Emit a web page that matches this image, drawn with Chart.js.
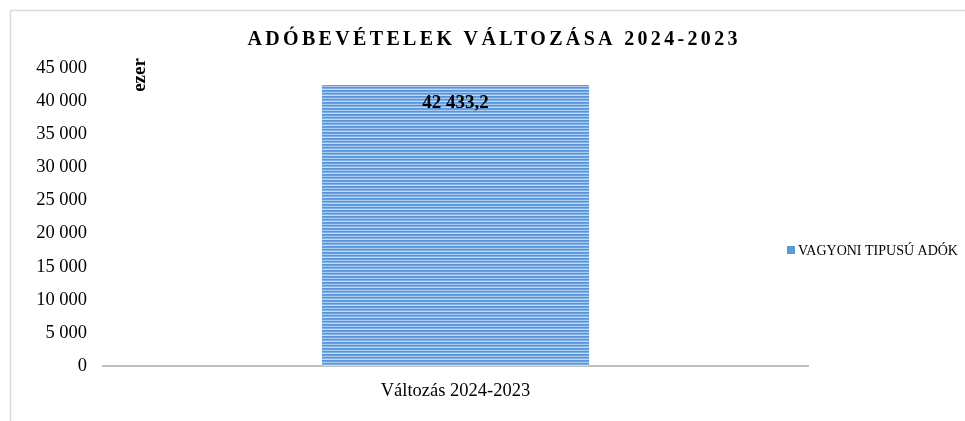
<!DOCTYPE html>
<html><head><meta charset="utf-8">
<script src="https://cdn.jsdelivr.net/npm/chart.js@4"></script>
<style>html,body{margin:0;padding:0;background:#fff}</style>
</head><body>
<canvas id="c" width="965" height="421"></canvas>
<script>
const chartTitle = 'ADÓBEVÉTELEK VÁLTOZÁSA 2024-2023';
const categories = ['Változás 2024-2023'];
const seriesName = 'VAGYONI TIPUSÚ ADÓK';
const seriesValues = [42433.2];
const yTickValues = [0, 5000, 10000, 15000, 20000, 25000, 30000, 35000, 40000, 45000];
const yUnit = 'ezer';

const FONT = '"Liberation Serif", "Times New Roman", serif';

function fmt(v, dec) {
  const s = Math.abs(v).toFixed(dec);
  const parts = s.split('.');
  const int = parts[0].replace(/\B(?=(\d{3})+(?!\d))/g, ' ');
  return (v < 0 ? '-' : '') + int + (parts[1] ? ',' + parts[1] : '');
}

function stripePattern() {
  const c = document.createElement('canvas');
  c.width = 4; c.height = 6;
  const g = c.getContext('2d');
  const rows = ['#5893d8', '#6ca2e1', '#a9caef', '#5a95d9', '#80b0e7', '#c3dbf5'];
  rows.forEach((col, i) => { g.fillStyle = col; g.fillRect(0, i, 4, 1); });
  return document.getElementById('c').getContext('2d').createPattern(c, 'repeat');
}
const barFill = stripePattern();

const decorPlugin = {
  id: 'decor',
  beforeDraw(chart) {
    const ctx = chart.ctx;
    ctx.save();
    ctx.fillStyle = '#ffffff';
    ctx.fillRect(0, 0, chart.width, chart.height);
    ctx.strokeStyle = '#d9d9d9';
    ctx.lineWidth = 1.5;
    ctx.beginPath();
    ctx.moveTo(10.5, chart.height);
    ctx.lineTo(10.5, 10.5);
    ctx.lineTo(chart.width, 10.5);
    ctx.stroke();
    ctx.restore();
  },
  afterDraw(chart) {
    const ctx = chart.ctx;
    const ca = chart.chartArea;
    ctx.save();
    // title with letter spacing
    ctx.font = 'bold 20px ' + FONT;
    ctx.fillStyle = '#000000';
    ctx.textBaseline = 'middle';
    const w0 = ctx.measureText(chartTitle).width;
    const ls = (490 - w0) / (chartTitle.length - 1);
    ctx.letterSpacing = ls + 'px';
    ctx.textAlign = 'left';
    ctx.fillText(chartTitle, chart.width / 2 + 10 - 245, 40);
    ctx.letterSpacing = '0px';
    // unit label "ezer"
    ctx.save();
    ctx.translate(ca.left + 37, ca.top + 7);
    ctx.rotate(-Math.PI / 2);
    ctx.font = 'bold 19px ' + FONT;
    ctx.textAlign = 'center';
    ctx.textBaseline = 'middle';
    ctx.fillText(yUnit, 0, 0);
    ctx.restore();
    // legend
    const ds = chart.data.datasets[0];
    const ly = (ca.top + ca.bottom) / 2 + 33;
    const lx = ca.right - 21;
    ctx.fillStyle = '#5b9bd5';
    ctx.fillRect(lx, ly - 4, 8, 8);
    ctx.fillStyle = '#000000';
    ctx.font = '14px ' + FONT;
    ctx.textAlign = 'left';
    ctx.textBaseline = 'middle';
    ctx.fillText(ds.label, lx + 11, ly + 1);
    ctx.restore();
  },
  afterDatasetsDraw(chart) {
    const ctx = chart.ctx;
    const meta = chart.getDatasetMeta(0);
    const vals = chart.data.datasets[0].data;
    ctx.save();
    ctx.font = 'bold 19px ' + FONT;
    ctx.fillStyle = '#000000';
    ctx.textAlign = 'center';
    ctx.textBaseline = 'middle';
    meta.data.forEach((el, i) => {
      ctx.fillText(fmt(vals[i], 1), el.x, el.y + 18);
    });
    ctx.restore();
  }
};

new Chart(document.getElementById('c'), {
  type: 'bar',
  data: {
    labels: categories,
    datasets: [{
      label: seriesName,
      data: seriesValues,
      backgroundColor: barFill,
      borderWidth: 0,
      categoryPercentage: 1,
      barPercentage: 0.379
    }]
  },
  options: {
    responsive: false,
    animation: false,
    devicePixelRatio: 1,
    layout: { padding: { left: 11, right: 157, top: 68, bottom: 0 } },
    plugins: { legend: { display: false }, title: { display: false }, tooltip: { enabled: false } },
    scales: {
      x: {
        grid: { display: false, drawTicks: false },
        border: { display: true, color: '#bfbfbf', width: 2 },
        ticks: { color: '#000000', font: { family: FONT, size: 18.5 }, padding: 14 },
        afterFit(scale) { scale.height = 55; }
      },
      y: {
        min: 0,
        max: 45000,
        afterBuildTicks(scale) { scale.ticks = yTickValues.map(v => ({ value: v })); },
        grid: { display: false, drawTicks: false },
        border: { display: false },
        ticks: {
          color: '#000000',
          font: { family: FONT, size: 18.5 },
          padding: 16,
          callback: v => fmt(v, 0)
        },
        afterFit(scale) { scale.width = 92; }
      }
    }
  },
  plugins: [decorPlugin]
});
</script>
</body></html>
